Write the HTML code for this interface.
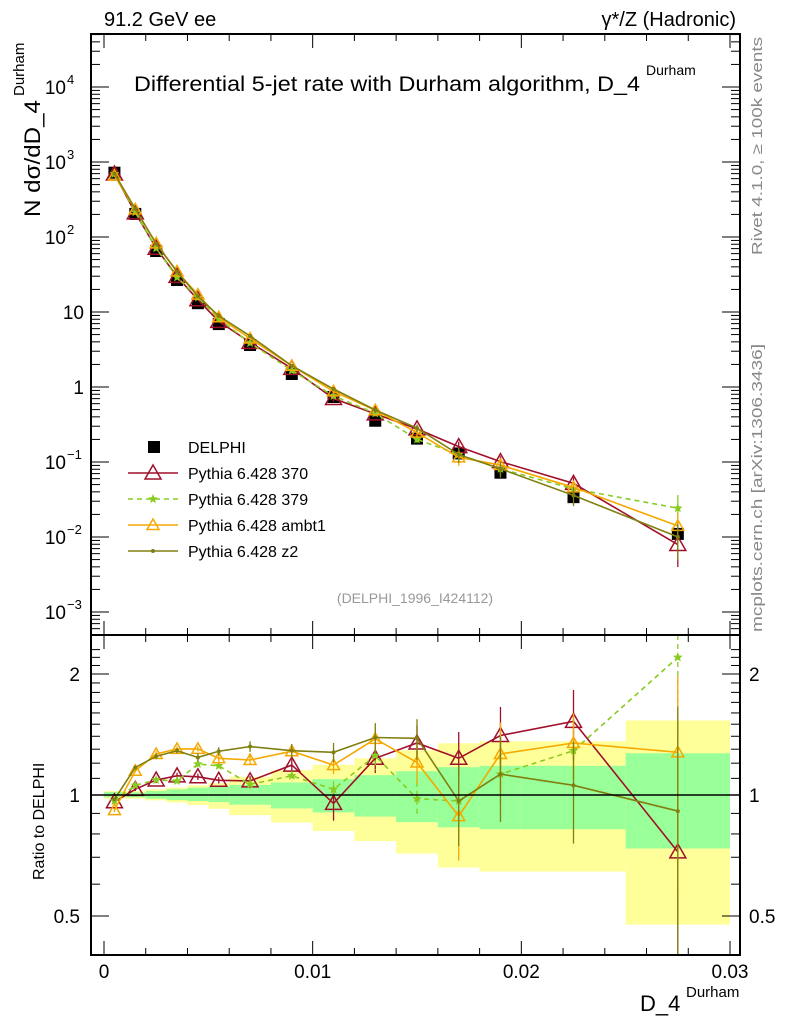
<!DOCTYPE html>
<html><head><meta charset="utf-8"><style>
body{margin:0;background:#fff}
svg text{font-family:"Liberation Sans",sans-serif}
</style></head><body>
<svg id="chart" width="786" height="1024" xmlns="http://www.w3.org/2000/svg">
<rect width="786" height="1024" fill="#fff"/>
<g id="bands"></g>
<g id="grid"></g>
<g id="series"></g>
<g id="axes"></g>
<text x="104" y="26" font-size="20">91.2 GeV ee</text>
<text x="736" y="26" font-size="20" text-anchor="end">γ*/Z (Hadronic)</text>
<text x="134" y="91" font-size="21" textLength="506" lengthAdjust="spacingAndGlyphs">Differential 5-jet rate with Durham algorithm, D_4</text>
<text x="646" y="75" font-size="14">Durham</text>
<text x="415" y="603" font-size="14" fill="#999" text-anchor="middle">(DELPHI_1996_I424112)</text>
<text transform="translate(762,255) rotate(-90)" font-size="15" fill="#888" textLength="218" lengthAdjust="spacingAndGlyphs">Rivet 4.1.0, ≥ 100k events</text>
<text transform="translate(762,632) rotate(-90)" font-size="15" fill="#888" textLength="288" lengthAdjust="spacingAndGlyphs">mcplots.cern.ch [arXiv:1306.3436]</text>
<text transform="translate(40,217) rotate(-90)" font-size="22" textLength="117" lengthAdjust="spacingAndGlyphs">N  dσ/dD_4</text>
<text transform="translate(24,96) rotate(-90)" font-size="15">Durham</text>
<text transform="translate(44,880) rotate(-90)" font-size="16">Ratio to DELPHI</text>
<text x="640" y="1011" font-size="22">D_4</text>
<text x="686" y="997" font-size="15">Durham</text>
<g id="legend"></g>
</svg>
<script>
const edges=[0,0.001,0.002,0.003,0.004,0.005,0.006,0.008,0.010,0.012,0.014,0.016,0.018,0.020,0.025,0.030];
const centers=[0.0005,0.0015,0.0025,0.0035,0.0045,0.0055,0.007,0.009,0.011,0.013,0.015,0.017,0.019,0.0225,0.0275];
const delphi=[720,203,65,26.7,13.1,6.9,3.63,1.49,0.736,0.355,0.205,0.13,0.072,0.034,0.011];
const greenUp=[1.017,1.015,1.023,1.033,1.043,1.047,1.059,1.074,1.095,1.120,1.146,1.173,1.182,1.182,1.270];
const greenDn=[0.987,0.987,0.979,0.971,0.966,0.960,0.946,0.926,0.905,0.884,0.856,0.831,0.822,0.822,0.736];
const yellowUp=[1.023,1.023,1.033,1.043,1.057,1.070,1.110,1.153,1.189,1.234,1.292,1.345,1.360,1.360,1.533];
const yellowDn=[0.979,0.979,0.970,0.958,0.944,0.924,0.891,0.854,0.814,0.768,0.715,0.660,0.645,0.645,0.476];
const r370=[0.962,1.033,1.09,1.116,1.11,1.088,1.084,1.187,0.953,1.234,1.347,1.234,1.406,1.525,0.722];
const e370=[0.01,0.01,0.02,0.02,0.02,0.02,0.03,0.04,0.09,0.1,0.14,0.2,0.25,0.3,0.7];
const r379=[0.966,1.057,1.09,1.084,1.194,1.182,1.063,1.116,1.033,1.253,0.979,0.966,1.127,1.289,2.2];
const e379=[0.01,0.01,0.02,0.02,0.02,0.02,0.03,0.03,0.05,0.1,0.1,0.15,0.2,0.25,1.2];
const rAmbt1=[0.917,1.149,1.265,1.302,1.302,1.234,1.222,1.285,1.187,1.379,1.205,0.886,1.265,1.347,1.277];
const eAmbt1=[0.01,0.01,0.02,0.02,0.02,0.03,0.03,0.04,0.06,0.1,0.14,0.2,0.25,0.25,0.7];
const rZ2=[0.975,1.171,1.248,1.289,1.24,1.285,1.32,1.289,1.277,1.39,1.384,0.966,1.127,1.057,0.912];
const eZ2=[0.01,0.01,0.02,0.02,0.03,0.03,0.04,0.05,0.07,0.12,0.16,0.22,0.27,0.3,0.75];
const xTicks=[0,0.01,0.02,0.03];
const xTickLabels=["0","0.01","0.02","0.03"];
const yTickExp=[-3,-2,-1,0,1,2,3,4];
const yTickLabels=["10","10","10","1","10","10","10","10"];
const yTickSups=["−3","−2","−1","","","2","3","4"];
const rTicks=[0.5,1,2];
const rTickLabels=["0.5","1","2"];

const NS="http://www.w3.org/2000/svg";
const L=91,R=740,T=34,MB=635,RB=955;
const X=v=>104+(v)*(730-104)/0.03;
const Y=v=>387-75*Math.log10(v);
const RY=r=>795-121*Math.log2(r);
const clampR=y=>Math.max(MB,Math.min(RB,y));
const clampM=y=>Math.max(T,Math.min(MB,y));
function el(tag,attrs,parent){const e=document.createElementNS(NS,tag);for(const k in attrs)e.setAttribute(k,attrs[k]);(parent||document.getElementById('series')).appendChild(e);return e;}
const bands=document.getElementById('bands');
for(let i=0;i<centers.length;i++){
 const x0=X(edges[i]),x1=X(edges[i+1]);
 const yb=el('rect',{x:x0,y:RY(yellowUp[i]),width:x1-x0,height:RY(yellowDn[i])-RY(yellowUp[i]),fill:'#ffff99'},bands);
 
 
 const gb=el('rect',{x:x0,y:RY(greenUp[i]),width:x1-x0,height:RY(greenDn[i])-RY(greenUp[i]),fill:'#99ff99'},bands);
 
 
}
const ax=document.getElementById('axes');
el('line',{x1:L,x2:R,y1:RY(1),y2:RY(1),stroke:'#000','stroke-width':1.5},ax);
el('rect',{x:L,y:T,width:R-L,height:MB-T,fill:'none',stroke:'#000','stroke-width':2},ax);
el('rect',{x:L,y:MB,width:R-L,height:RB-MB,fill:'none',stroke:'#000','stroke-width':2},ax);
for(let v=0;v<=0.03001;v+=0.002){const big=Math.abs(v/0.01-Math.round(v/0.01))<1e-6;const len=big?14:7;const x=X(v);
 for(const [a,b] of [[T,MB],[MB,RB]]){el('line',{x1:x,x2:x,y1:b,y2:b-len,stroke:'#000'},ax);el('line',{x1:x,x2:x,y1:a,y2:a+len,stroke:'#000'},ax);}}
xTicks.forEach((v,i)=>{const t=el('text',{x:X(v),y:978,'font-size':19,'text-anchor':'middle'},ax);t.textContent=xTickLabels[i];
 
 });
for(let e=-4;e<=4;e++){for(let m=1;m<10;m++){const v=m*Math.pow(10,e);const y=Y(v);if(y<T||y>MB)continue;const len=m==1?18:9;
 el('line',{x1:L,x2:L+len,y1:y,y2:y,stroke:'#000'},ax);el('line',{x1:R,x2:R-len,y1:y,y2:y,stroke:'#000'},ax);}}
yTickExp.forEach((e,i)=>{const y=Y(Math.pow(10,e));
 const t=el('text',{x:yTickSups[i]?66:84,y:y+7,'font-size':19,'text-anchor':'end'},ax);t.textContent=yTickLabels[i];
 
 
 if(yTickSups[i]){const s=el('text',{x:67,y:y-3,'font-size':13},ax);s.textContent=yTickSups[i];
 
 }});
for(let r=0.4;r<=2.4;r+=0.1){const y=RY(r);if(y<MB||y>RB)continue;const big=[0.5,1,2].some(v=>Math.abs(v-r)<1e-6);const len=big?18:9;
 el('line',{x1:L,x2:L+len,y1:y,y2:y,stroke:'#000'},ax);el('line',{x1:R,x2:R-len,y1:y,y2:y,stroke:'#000'},ax);}
rTicks.forEach((r,i)=>{const y=RY(r);
 const t=el('text',{x:80,y:y+7,'font-size':19,'text-anchor':'end'},ax);t.textContent=rTickLabels[i];
 
 
 const t2=el('text',{x:749,y:y+7,'font-size':19},ax);t2.textContent=rTickLabels[i];
 
 });

const series=[
 {name:'370',r:r370,e:e370,color:'#a0102a',dash:'',marker:'tri',size:8},
 {name:'379',r:r379,e:e379,color:'#88cc22',dash:'5,4',marker:'star',size:5},
 {name:'ambt1',r:rAmbt1,e:eAmbt1,color:'#f5a800',dash:'',marker:'tri',size:6},
 {name:'z2',r:rZ2,e:eZ2,color:'#808010',dash:'',marker:'dot',size:2}];
function marker(s,x,y,g){
 if(s.marker=='tri'){const h=s.size;el('polygon',{points:`${x},${y-h} ${x-h},${y+h*0.75} ${x+h},${y+h*0.75}`,fill:'none',stroke:s.color,'stroke-width':1.5},g);}
 else if(s.marker=='star'){const p=[];for(let k=0;k<10;k++){const a=-Math.PI/2+k*Math.PI/5,rr=k%2?s.size*0.45:s.size;p.push((x+rr*Math.cos(a)).toFixed(1)+','+(y+rr*Math.sin(a)).toFixed(1));}el('polygon',{points:p.join(' '),fill:s.color},g);}
 else el('circle',{cx:x,cy:y,r:s.size,fill:s.color},g);
}
const sg=document.getElementById('series');
delphi.forEach((v,i)=>{const q=el('rect',{x:X(centers[i])-6,y:Y(v)-6,width:12,height:12,fill:'#000'},sg);
 
 });
series.forEach(s=>{
 const g=el('g',{},sg);
 
 
 const mp=[],rp=[];
 centers.forEach((c,i)=>{const v=delphi[i]*s.r[i];mp.push(X(c)+','+Y(v));rp.push(X(c)+','+RY(s.r[i]));});
 el('polyline',{points:mp.join(' '),fill:'none',stroke:s.color,'stroke-width':1.6,'stroke-dasharray':s.dash},g);
 el('polyline',{points:rp.join(' '),fill:'none',stroke:s.color,'stroke-width':1.6,'stroke-dasharray':s.dash},g);
 centers.forEach((c,i)=>{const x=X(c);const r=s.r[i],e=s.e[i];
  const up=r+e,dn=Math.max(r-e,0.01);
  el('line',{x1:x,x2:x,y1:clampR(RY(up)),y2:clampR(RY(dn)),stroke:s.color,'stroke-width':1.3,'stroke-dasharray':s.dash},g);
  const f=Math.min(e/r,0.5);const v=delphi[i]*r;
  el('line',{x1:x,x2:x,y1:clampM(Y(v*(1+f))),y2:clampM(Y(v*(1-f))),stroke:s.color,'stroke-width':1.3},g);
  marker(s,x,Y(v),g);marker(s,x,RY(r),g);});
});
const lg=document.getElementById('legend');
const entries=[{label:'DELPHI'}].concat(series.map(s=>({label:'Pythia 6.428 '+s.name,s})));
entries.forEach((en,i)=>{const y=447+i*26;
 const g=el('g',{},lg);
 
 
 if(!en.s){el('rect',{x:148,y:y-6,width:12,height:12,fill:'#000'},g);}
 else{el('line',{x1:128,x2:178,y1:y,y2:y,stroke:en.s.color,'stroke-width':1.6,'stroke-dasharray':en.s.dash},g);marker(en.s,153,y,g);}
 const t=el('text',{x:188,y:y+6,'font-size':16},g);t.textContent=en.label;});
</script>
</body></html>
